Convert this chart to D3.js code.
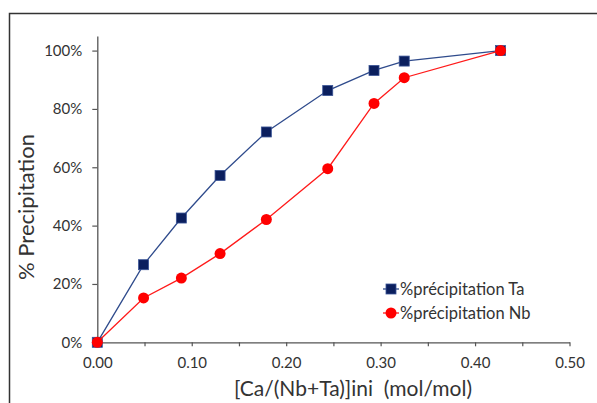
<!DOCTYPE html>
<html><head><meta charset="utf-8">
<script src="https://cdn.jsdelivr.net/npm/d3@7/dist/d3.min.js"></script>
<style>html,body{margin:0;padding:0;background:#fff;overflow:hidden} text{white-space:pre}</style>
</head><body>
<svg id="c" width="597" height="403"></svg>
<script>
const xTa = [0, 0.049, 0.089, 0.130, 0.179, 0.244, 0.293, 0.325, 0.427];
const yTa = [0, 0.266, 0.426, 0.572, 0.721, 0.863, 0.932, 0.964, 1.0];
const xNb = [0, 0.049, 0.089, 0.130, 0.179, 0.244, 0.293, 0.325, 0.427];
const yNb = [0, 0.152, 0.220, 0.304, 0.421, 0.595, 0.819, 0.907, 1.0];
const seriesNames = ["%précipitation Ta", "%précipitation Nb"];
const xTicks = [0, 0.1, 0.2, 0.3, 0.4, 0.5];
const xMinorTicks = [0.05, 0.15, 0.25, 0.35, 0.45];
const yTicks = [0, 0.2, 0.4, 0.6, 0.8, 1.0];
const xTitle = "[Ca/(Nb+Ta)]ini  (mol/mol)";
const yTitle = "% Precipitation";

const svg = d3.select("#c");
const font = "Lato, 'Open Sans', sans-serif";
svg.append("rect").attr("x",9.5).attr("y",13.5).attr("width",620).attr("height",420)
  .attr("fill","none").attr("stroke","#333").attr("stroke-width",1.5);

const x = d3.scaleLinear().domain([0,0.5]).range([97.3,569.5]);
const y = d3.scaleLinear().domain([0,1.05]).range([342.3,36]);

// y axis
const ya = svg.append("g").attr("transform","translate(97.3,0)")
  .call(d3.axisLeft(y).tickValues(yTicks).tickFormat(d3.format(".0%")).tickSize(5).tickPadding(10).tickSizeOuter(0));
ya.select(".domain").attr("stroke","#555").attr("stroke-width",1.3);
ya.selectAll(".tick line").attr("stroke","#555").attr("stroke-width",1.2);
ya.selectAll("text").attr("font-family",font).attr("font-size",15).attr("fill","#333");

// x axis
const xa = svg.append("g").attr("transform","translate(0,342.3)")
  .call(d3.axisBottom(x).tickValues(xTicks.concat(xMinorTicks)).tickFormat(d => xTicks.includes(d) ? d3.format(".2f")(d) : "").tickSize(4).tickPadding(11).tickSizeOuter(0));
xa.select(".domain").attr("stroke","#555").attr("stroke-width",1.3);
xa.selectAll(".tick line").attr("stroke","#555").attr("stroke-width",1.2);
xa.selectAll("text").attr("font-family",font).attr("font-size",15).attr("fill","#333");

// titles
svg.append("text").attr("x",353).attr("y",396).attr("text-anchor","middle")
  .attr("font-family",font).attr("font-size",21).attr("fill","#333").text(xTitle);
svg.append("text").attr("transform","translate(34,207) rotate(-90)").attr("text-anchor","middle")
  .attr("font-family",font).attr("font-size",22).attr("fill","#333").text(yTitle);

const line = d3.line().x(d=>x(d[0])).y(d=>y(d[1]));
const ta = xTa.map((v,i)=>[v,yTa[i]]);
const nb = xNb.map((v,i)=>[v,yNb[i]]);
const taCol = "#2F4B8C", taFill = "#0B1F5E", nbCol = "#FF1A1A", nbFill = "#FF0000";

svg.append("path").datum(ta).attr("d",line).attr("fill","none").attr("stroke",taCol).attr("stroke-width",1.3);
svg.selectAll(".sq").data(ta).join("rect").attr("x",d=>x(d[0])-5).attr("y",d=>y(d[1])-5)
  .attr("width",10).attr("height",10).attr("fill",taFill).attr("stroke","#3A5496").attr("stroke-width",0.8);
svg.append("path").datum(nb).attr("d",line).attr("fill","none").attr("stroke",nbCol).attr("stroke-width",1.3);
svg.selectAll(".ci").data(nb).join("circle").attr("cx",d=>x(d[0])).attr("cy",d=>y(d[1]))
  .attr("r",5.5).attr("fill",nbFill);

// legend
const lg = svg.append("g");
[[taCol,taFill,"sq",0],[nbCol,nbFill,"ci",1]].forEach(([c,f,t,i])=>{
  const yy = 289 + i*24;
  lg.append("line").attr("x1",383).attr("x2",399).attr("y1",yy).attr("y2",yy).attr("stroke",c).attr("stroke-width",1.3);
  if(t==="sq") lg.append("rect").attr("x",386).attr("y",yy-5).attr("width",10).attr("height",10).attr("fill",f).attr("stroke","#3A5496").attr("stroke-width",0.8);
  else lg.append("circle").attr("cx",391).attr("cy",yy).attr("r",5.5).attr("fill",f);
  lg.append("text").attr("x",400).attr("y",yy+5.5).attr("font-family",font).attr("font-size",16.5).attr("fill","#333").text(seriesNames[i]);
});
</script>
</body></html>
